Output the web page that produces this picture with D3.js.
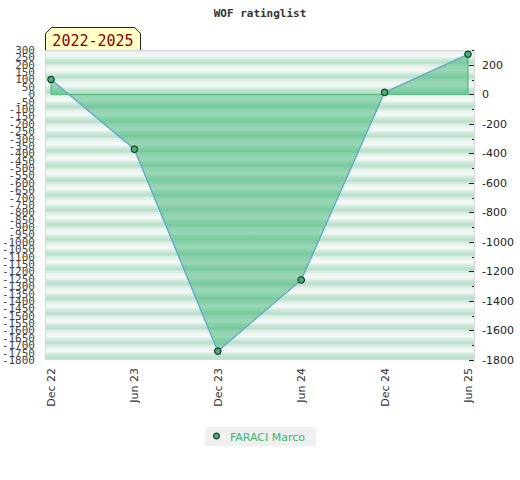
<!DOCTYPE html>
<html><head><meta charset="utf-8">
<script src="https://cdn.jsdelivr.net/npm/d3@7"></script>
<style>body{margin:0;background:#fff}</style>
</head><body>
<svg id="c" width="520" height="480"></svg>
<script>
const categories = ["Dec 22","Jun 23","Dec 23","Jun 24","Dec 24","Jun 25"];
const values = [100, -372, -1740, -1258, 13, 271];
const leftTicks = d3.range(300, -1801, -50);
const rightTicks = d3.range(200, -1801, -200);
const rightMinor = d3.range(300, -1801, -100);
const seriesName = "FARACI Marco";
const title = "WOF ratinglist";
const periodLabel = "2022-2025";

const svg = d3.select("#c");
const L = 45, R = 475, T = 50, B = 360;
const x = d3.scalePoint().domain(categories).range([51, 468]);
const y = d3.scaleLinear().domain([-1800, 300]).range([B, T]);

const defs = svg.append("defs");
const g = defs.append("linearGradient").attr("id","band").attr("x1",0).attr("y1",0).attr("x2",0).attr("y2",1);
[[0,"#d6e6dd"],[0.15,"#e9f4ee"],[0.4,"#f5faf7"],[0.62,"#cfeadb"],[0.85,"#b6dfc8"],[1,"#cfe9da"]].forEach(s=>g.append("stop").attr("offset",s[0]).attr("stop-color",s[1]));

// background bands
const bands = d3.range(300, -1800, -100);
svg.append("g").selectAll("rect").data(bands).join("rect")
  .attr("x", L).attr("width", R-L)
  .attr("y", d=>y(d)).attr("height", d=>y(d-100)-y(d))
  .attr("fill","url(#band)");
svg.append("rect").attr("x",L+0.5).attr("y",T+0.5).attr("width",R-L-1).attr("height",B-T-1)
  .attr("fill","none").attr("stroke","#d8d8d8");

// area
const area = d3.area().x((d,i)=>x(categories[i])).y0(y(0)).y1(d=>y(d));
const areaPath = "M" + x(categories[0]) + "," + y(0) + "L" +
  values.map((d,i)=>x(categories[i])+","+y(d)).join("L") + "L" + x(categories[categories.length-1]) + "," + y(0) + "Z";
svg.append("path").attr("d", area(values)).attr("fill","rgba(60,179,113,0.5)").attr("stroke","none");
svg.append("path").attr("d", areaPath).attr("fill","none").attr("stroke","#3cb371").attr("stroke-width",1);
const line = d3.line().x((d,i)=>x(categories[i])).y(d=>y(d));
svg.append("path").attr("d", line(values)).attr("fill","none").attr("stroke","#66a9dd").attr("stroke-width",1.2);
svg.append("g").selectAll("circle").data(values).join("circle")
  .attr("cx",(d,i)=>x(categories[i])).attr("cy",d=>y(d)).attr("r",3.3)
  .attr("fill","#3cb371").attr("stroke","#111").attr("stroke-width",1);

// left axis (crowded labels)
svg.append("g").selectAll("text").data(leftTicks).join("text")
  .attr("x", 35).attr("y", d=>y(d)).attr("dy","0.36em")
  .attr("text-anchor","end")
  .attr("font-family","DejaVu Sans Mono").attr("font-size","11px")
  .attr("fill","#444").text(d=>d);

// right axis
svg.append("g").selectAll("line").data(rightMinor).join("line")
  .attr("x1", d=> d%200===0 ? 469 : 472).attr("x2",474)
  .attr("y1", d=>Math.round(y(d))+0.5).attr("y2", d=>Math.round(y(d))+0.5)
  .attr("stroke","#222");
svg.append("g").selectAll("text").data(rightTicks).join("text")
  .attr("x", 482).attr("y", d=>y(d)).attr("dy","0.36em")
  .attr("font-family","DejaVu Sans").attr("font-size","11px")
  .attr("fill","#222").text(d=>d);

// x labels
svg.append("g").selectAll("text").data(categories).join("text")
  .attr("transform", d=>`translate(${x(d)+4},368) rotate(-90)`)
  .attr("text-anchor","end")
  .attr("font-family","DejaVu Sans").attr("font-size","11px")
  .attr("fill","#333").text(d=>d);

// title
svg.append("text").attr("x",260).attr("y",17).attr("text-anchor","middle")
  .attr("font-family","DejaVu Sans Mono").attr("font-weight","bold").attr("font-size","11px")
  .attr("fill","#333").text(title);

// period label box
svg.append("path").attr("d","M45.5,50 L45.5,33.5 L51.5,27.5 L134.5,27.5 L140.5,33.5 L140.5,50")
  .attr("fill","#ffffc6").attr("stroke","#222").attr("stroke-width",1);
svg.append("text").attr("x",93).attr("y",46).attr("text-anchor","middle")
  .attr("font-family","DejaVu Sans Mono").attr("font-size","15px")
  .attr("fill","#8b0000").text(periodLabel);

// legend
svg.append("rect").attr("x",205).attr("y",427).attr("width",111).attr("height",19).attr("fill","#f0f0f0");
svg.append("circle").attr("cx",216.5).attr("cy",436).attr("r",3).attr("fill","#3cb371").attr("stroke","#111");
svg.append("text").attr("x",230).attr("y",440.5).attr("font-family","DejaVu Sans").attr("font-size","11px")
  .attr("fill","#3cb371").text(seriesName);
</script>
</body></html>
